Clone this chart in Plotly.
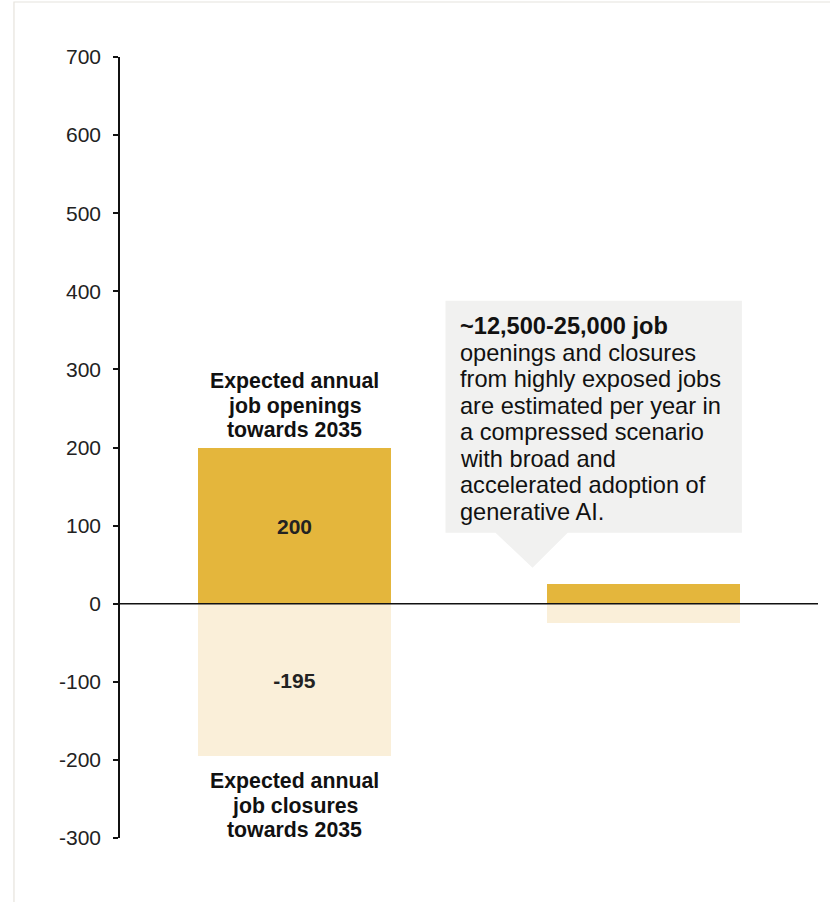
import plotly.graph_objects as go

# Job openings and closures per year (thousands)
groups = ["All jobs", "Highly exposed jobs"]
openings = [200, 25]
closures = [-195, -25]
show_value = [True, False]

tick_values = [-300, -200, -100, 0, 100, 200, 300, 400, 500, 600, 700]
tick_labels = [str(v) for v in tick_values]

opening_lines = ["Expected annual", "job openings", "towards 2035"]
closure_lines = ["Expected annual", "job closures", "towards 2035"]
callout_lines = ["<b>~12,500-25,000 job</b>", "openings and closures",
                 "from highly exposed jobs", "are estimated per year in",
                 "a compressed scenario", "with broad and",
                 "accelerated adoption of", "generative AI."]

GOLD = "#E4B63C"
CREAM = "#FAEFD9"
FONT = "Liberation Sans, Arial, sans-serif"

fig = go.Figure()
for vals, color in ((openings, GOLD), (closures, CREAM)):
    fig.add_bar(
        x=groups, y=vals, marker=dict(color=color, line=dict(width=0)),
        width=0.555,
        text=[str(v) if s else "" for v, s in zip(vals, show_value)],
        textposition="inside", insidetextanchor="middle",
        textfont=dict(family=FONT, size=21, color="#222222", weight="bold"),
        hoverinfo="skip",
    )


def stacked_lines(lines, x, y, first_shift, gap, size, bold=False,
                  xanchor="center", xshift=0):
    """Place one annotation per line so the line spacing can be set freely."""
    descent = 0.21 * size
    for i, line in enumerate(lines):
        fig.add_annotation(
            x=x, y=y, text=line, showarrow=False,
            xanchor=xanchor, yanchor="bottom", align="left",
            xshift=xshift, yshift=first_shift - i * gap - descent, borderpad=0,
            font=dict(family=FONT, size=size, color="#111111",
                      weight="bold" if bold else "normal"),
        )


# Labels above and below the first bar (baseline offsets in px from bar end)
stacked_lines(opening_lines, groups[0], openings[0], 57.7, 24.5, 21.3, bold=True)
stacked_lines(closure_lines, groups[0], closures[0], -33.6, 24.5, 21.3, bold=True)

# Callout box with a pointer toward the second bar
fig.add_shape(type="path",
              path="M 0.4326 387.8 L 1.282 387.8 L 1.282 90.9 L 0.7827 90.9 "
                   "L 0.682 46.1 L 0.576 90.9 L 0.4326 90.9 Z",
              xref="x", yref="y", fillcolor="#F1F1F0", line=dict(width=0),
              layer="below")
stacked_lines(callout_lines, 0.4756, 0, 268.3, 26.5, 23.6,
              xanchor="left", xshift=-1)

# Zero line
fig.add_shape(type="line", x0=-0.5, x1=1.5, y0=0, y1=0, xref="x", yref="y",
              line=dict(color="#111111", width=1.6))

# Light frame around the chart
fig.add_shape(type="rect", xref="paper", yref="paper",
              x0=-0.1519, x1=1.05, y0=-0.2, y1=1.0704,
              line=dict(color="#E6E3DD", width=1.2), fillcolor="rgba(0,0,0,0)")

fig.update_layout(
    barmode="relative",
    width=830, height=902,
    margin=dict(l=120, r=12, t=57, b=64),
    paper_bgcolor="white", plot_bgcolor="white",
    showlegend=False,
    font=dict(family=FONT, color="#222222"),
    bargap=0,
)
fig.update_xaxes(range=[-0.5, 1.5], showticklabels=False, showline=False,
                 showgrid=False, zeroline=False, ticks="")
fig.update_yaxes(range=[-300, 700], tickvals=tick_values, ticktext=tick_labels,
                 showline=True, linecolor="#111111", linewidth=1.6,
                 ticks="outside", ticklen=5, tickwidth=1.6, tickcolor="#111111",
                 showgrid=False, zeroline=False, ticklabelstandoff=8,
                 tickfont=dict(family=FONT, size=21, color="#222222"))

fig.write_html("out.html")
